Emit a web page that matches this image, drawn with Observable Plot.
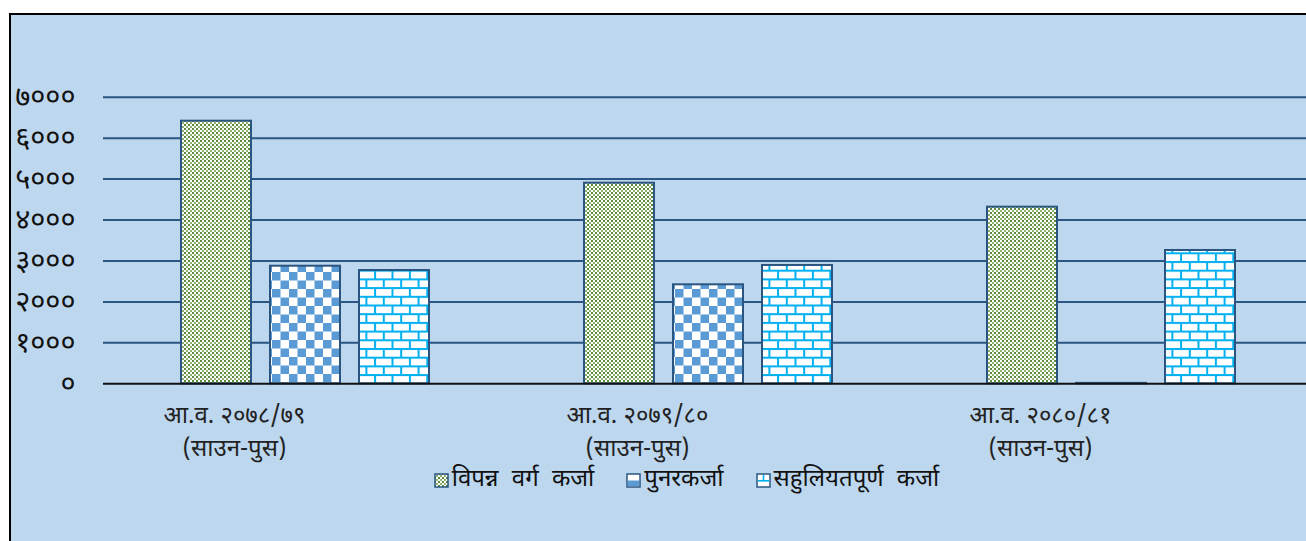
<!DOCTYPE html>
<html><head><meta charset="utf-8">
<script src="https://cdn.jsdelivr.net/npm/d3@7"></script>
<script src="https://cdn.jsdelivr.net/npm/@observablehq/plot@0.6"></script>
<style>
html,body{margin:0;padding:0;background:#fff;overflow:hidden;width:1306px;height:541px;}
#bg{position:absolute;left:9px;top:13px;width:1400px;height:600px;background:#BDD7EE;border-left:2px solid #000;border-top:2px solid #000;}
#chart{position:absolute;left:0;top:0;width:1320px;}
#chart svg{max-width:none;}
#legend{position:absolute;left:0;top:465px;width:1373px;text-align:center;font-size:24px;line-height:30px;word-spacing:7px;color:#111;font-family:'Noto Sans Devanagari','Lohit Devanagari','Mangal','Kalimati','Noto Sans',sans-serif;white-space:nowrap;}
.item{display:inline-flex;align-items:center;margin:0 16px;}
.item svg{margin-right:3px;}
</style>
</head><body>
<div id="bg"></div>
<svg width="0" height="0" style="position:absolute">
 <defs>
  <pattern id="pg" width="4" height="4" patternUnits="userSpaceOnUse">
   <rect width="4" height="4" fill="#fff"/>
   <rect x="0" y="0" width="2" height="2" fill="#5B8C3A"/>
   <rect x="2" y="2" width="2" height="2" fill="#8FB070"/>
  </pattern>
  <pattern id="pc" width="17" height="17" patternUnits="userSpaceOnUse">
   <rect width="17" height="17" fill="#fff"/>
   <rect x="0" y="0" width="8.5" height="8.5" fill="#5B9BD5"/>
   <rect x="8.5" y="8.5" width="8.5" height="8.5" fill="#5B9BD5"/>
  </pattern>
  <pattern id="pb" width="17.4" height="17.4" patternUnits="userSpaceOnUse">
   <rect width="17.4" height="17.4" fill="#fff"/>
   <rect x="0" y="0" width="17.4" height="2" fill="#00B0F0"/>
   <rect x="0" y="8.7" width="17.4" height="2" fill="#00B0F0"/>
   <rect x="0" y="0" width="2" height="8.7" fill="#00B0F0"/>
   <rect x="8.7" y="8.7" width="2" height="8.7" fill="#00B0F0"/>
  </pattern>
 </defs>
</svg>
<div id="chart"></div>
<div id="legend"></div>
<script>
const groups = ["आ.व. २०७८/७९", "आ.व. २०७९/८०", "आ.व. २०८०/८१"];
const periodLabel = "(साउन-पुस)";
const series = ["विपन्न वर्ग कर्जा", "पुनरकर्जा", "सहुलियतपूर्ण कर्जा"];
const bipannaValues = [6414, 4900, 4314];
const punarValues = [2872, 2418, 10];
const sahuliyatValues = [2767, 2890, 3256];
const yTicks = [0, 1000, 2000, 3000, 4000, 5000, 6000, 7000];

const seriesValues = [bipannaValues, punarValues, sahuliyatValues];
const data = groups.flatMap((g, gi) => series.map((s, si) => ({group: g, series: s, value: seriesValues[si][gi]})));

const devDigits = "०१२३४५६७८९";
const toDev = d => String(d).replace(/\d/g, c => devDigits[+c]);
const FONT = "'Noto Sans Devanagari','Lohit Devanagari','Mangal','Kalimati','Noto Sans',sans-serif";

const chart = Plot.plot({
  width: 1320,
  height: 470,
  marginLeft: 103,
  marginRight: 8,
  marginTop: 96.7,
  marginBottom: 86.7,
  style: {fontSize: "20px", fontFamily: FONT, background: "transparent", color: "#111", overflow: "visible", maxWidth: "none"},
  fx: {domain: groups, padding: 0},
  x: {domain: series, paddingInner: 0.218, paddingOuter: 0.86, axis: null},
  y: {domain: [0, 7000]},
  color: {type: "ordinal", domain: series, range: ["url(#pg)", "url(#pc)", "url(#pb)"]},
  marks: [
    Plot.gridY(yTicks.filter(d => d > 0), {stroke: "#2B5582", strokeOpacity: 1, strokeWidth: 2}),
    Plot.axisY(yTicks, {tickSize: 0, tickPadding: 28, tickFormat: toDev, label: null, fill: "#111", fontSize: 29, fontWeight: 400}),
    Plot.axisFx({anchor: "bottom", tickSize: 0, tickPadding: 16, dx: -70.5, lineHeight: 1.38, fontSize: 24,
      tickFormat: g => g + "\n" + periodLabel, label: null, fill: "#222"}),
    Plot.barY(data, {fx: "group", x: "series", y: "value", fill: "series", stroke: "#2A5580", strokeWidth: 2}),
    Plot.ruleY([0], {stroke: "#111", strokeWidth: 2})
  ]
});
document.getElementById("chart").appendChild(chart);

const icons = [
  `<svg width="15" height="15"><rect x="1" y="1" width="13" height="13" fill="url(#pg)" stroke="#2A5580" stroke-width="1.5"/></svg>`,
  `<svg width="15" height="15"><rect x="1" y="1" width="13" height="13" fill="#fff" stroke="#2A5580" stroke-width="1.5"/><rect x="2" y="7.5" width="11" height="5.5" fill="#5B9BD5"/></svg>`,
  `<svg width="15" height="15"><rect x="1" y="1" width="13" height="13" fill="#fff" stroke="#2A5580" stroke-width="1.5"/><rect x="2" y="7" width="11" height="1.6" fill="#00B0F0"/><rect x="6.7" y="2" width="1.6" height="5" fill="#00B0F0"/></svg>`
];
document.getElementById("legend").innerHTML = series.map((s, i) =>
  `<span class="item">${icons[i]}<span>${s}</span></span>`).join("");
</script>
</body></html>
